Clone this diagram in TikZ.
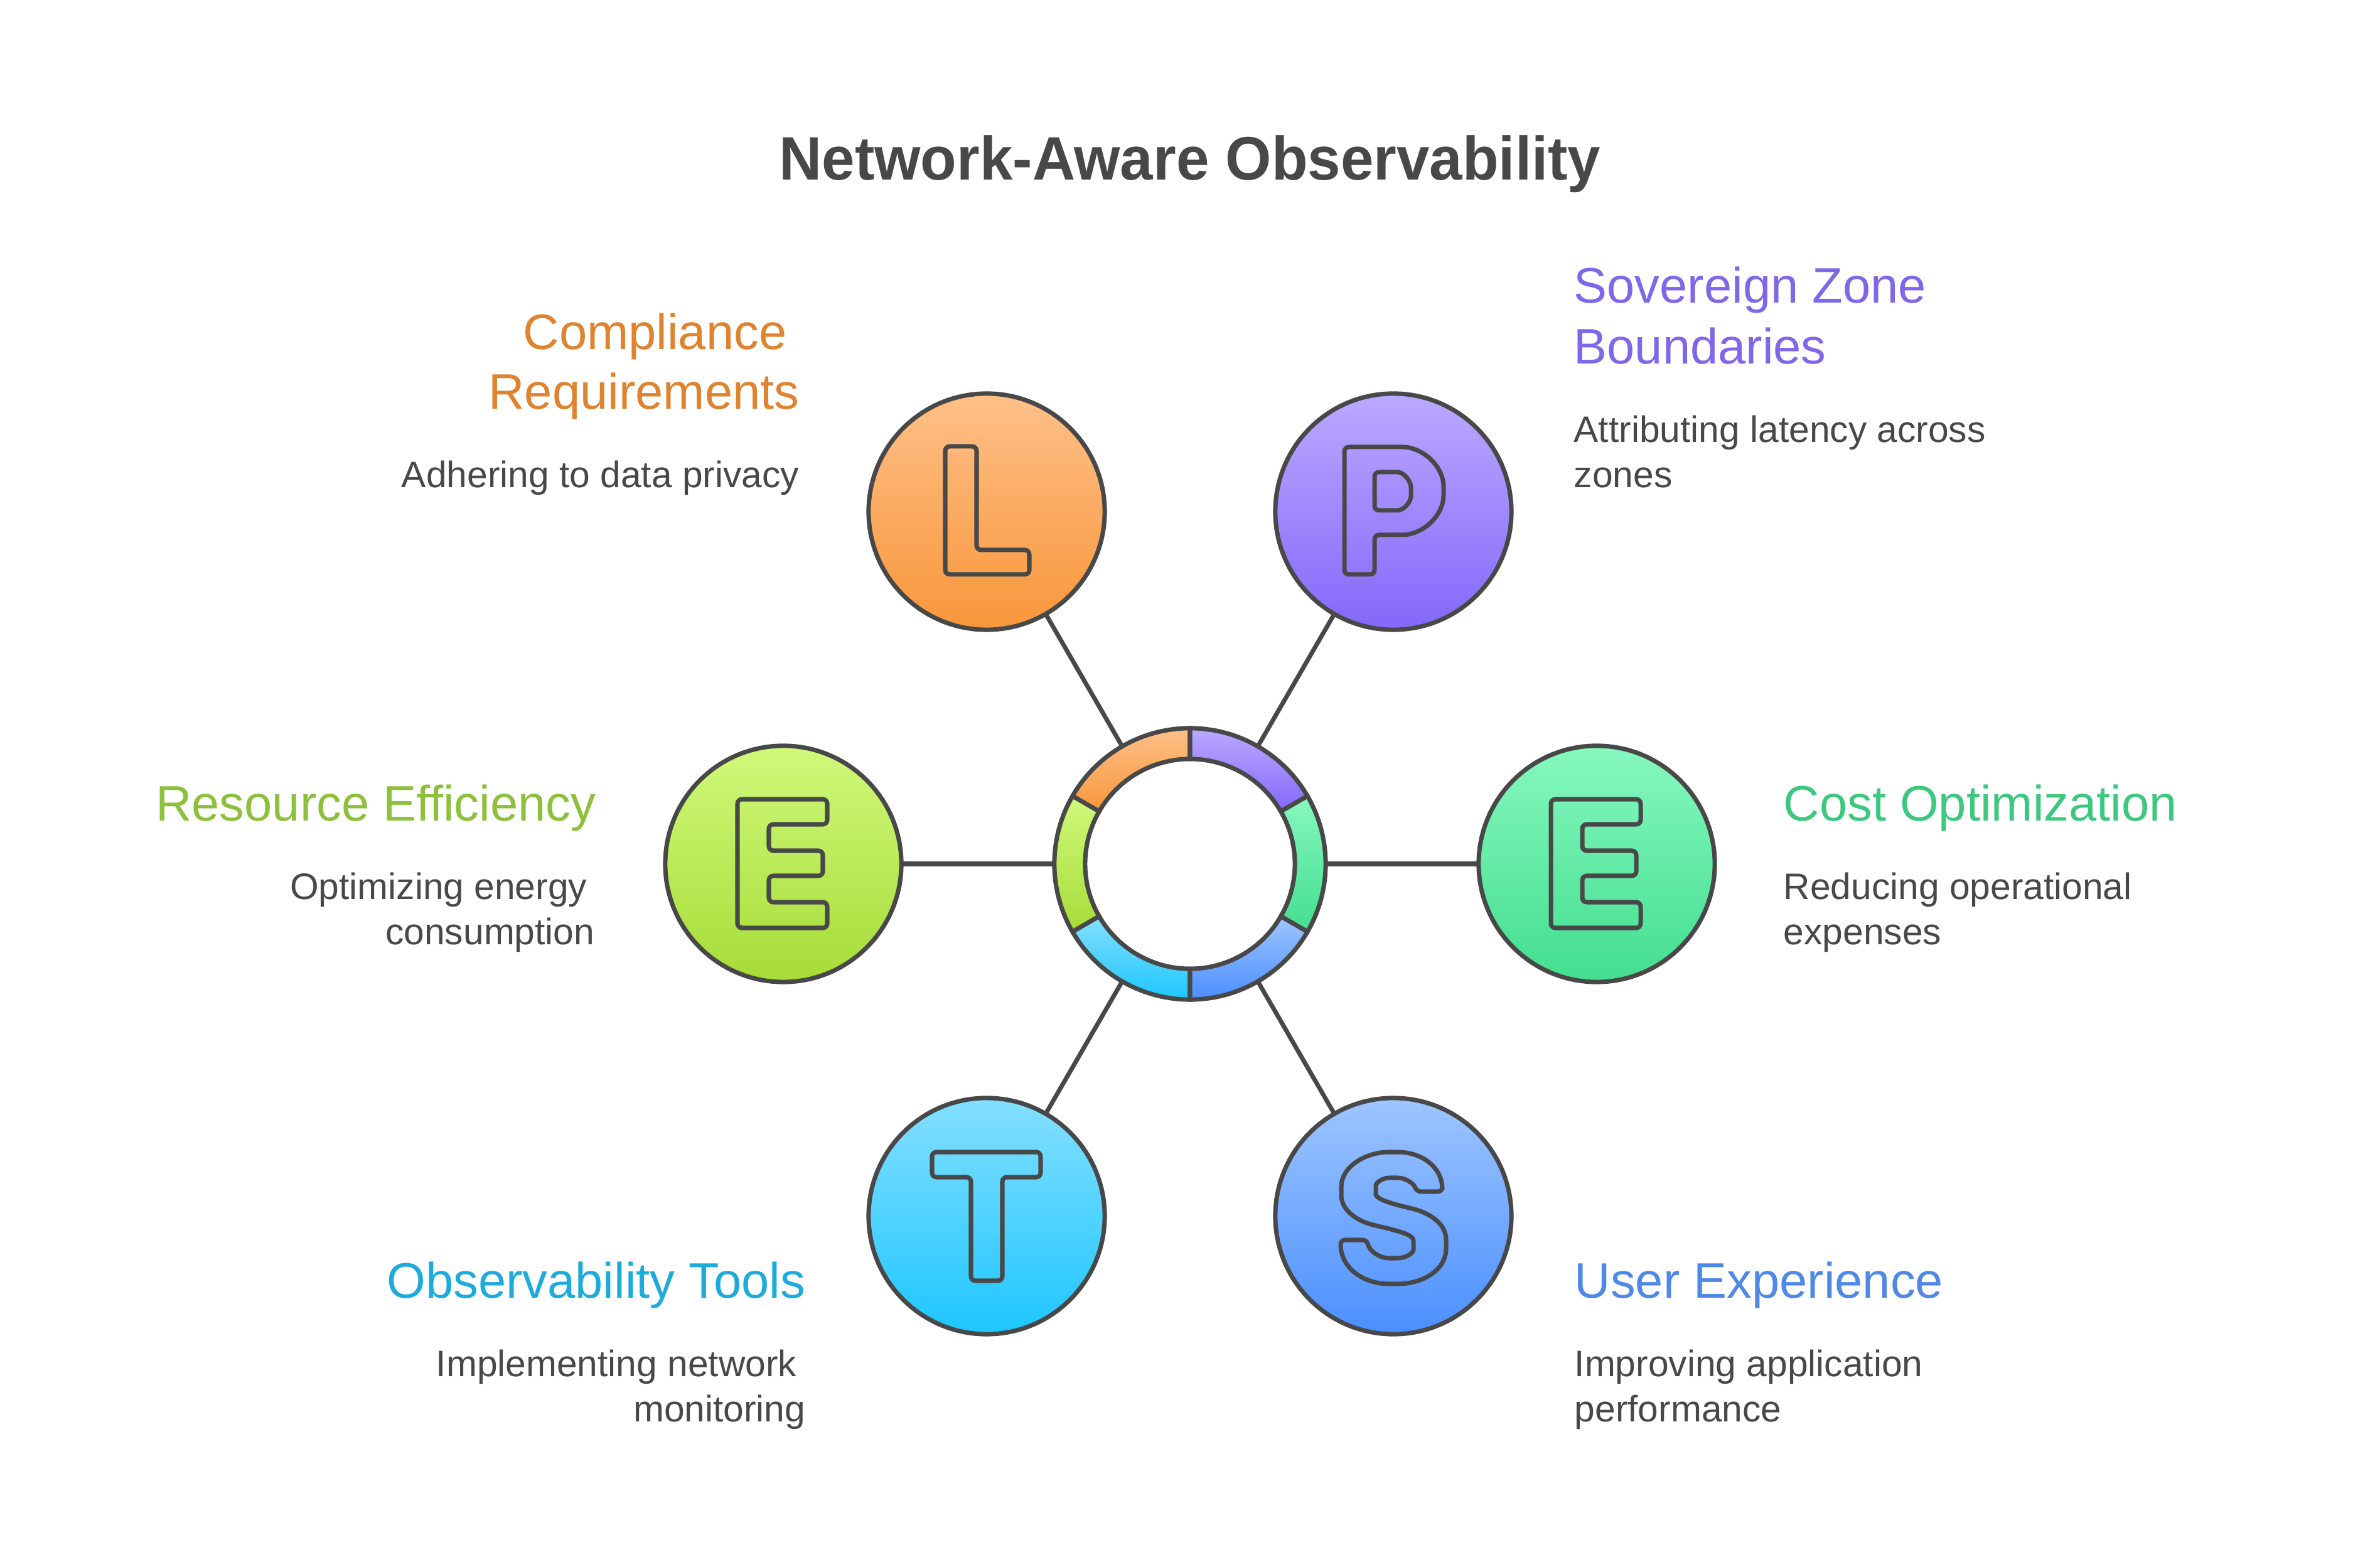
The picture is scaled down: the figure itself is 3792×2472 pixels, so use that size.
\documentclass[tikz,border=0pt]{standalone}
\usepackage{fontspec}
\setmainfont{Liberation Sans}
\newfontfamily\titlefont[FakeStretch=0.965]{Liberation Sans}
\usetikzlibrary{calc}
\definecolor{strokegray}{HTML}{484848}
\definecolor{oraT}{HTML}{FEC088}\definecolor{oraB}{HTML}{F8963B}
\definecolor{purT}{HTML}{BAA9FF}\definecolor{purB}{HTML}{8468FA}
\definecolor{limT}{HTML}{D0F97A}\definecolor{limB}{HTML}{A6DC38}
\definecolor{grnT}{HTML}{86F8BF}\definecolor{grnB}{HTML}{43DE8F}
\definecolor{cyaT}{HTML}{84DFFF}\definecolor{cyaB}{HTML}{1DC6FF}
\definecolor{bluT}{HTML}{9EC5FF}\definecolor{bluB}{HTML}{4A8FFF}
\definecolor{oraH}{HTML}{E0832F}
\definecolor{purH}{HTML}{7F67E9}
\definecolor{limH}{HTML}{8DC03B}
\definecolor{grnH}{HTML}{3DC87F}
\definecolor{cyaH}{HTML}{1DAADC}
\definecolor{bluH}{HTML}{4F89E8}
\tikzset{
  bubble/.style={circle, draw=strokegray, line width=2pt, minimum size=3.76cm, inner sep=0pt, outer sep=0pt},
  glyph/.style={draw=strokegray, line width=2pt, rounded corners=2pt, line join=round},
  conn/.style={draw=strokegray, line width=2pt},
  seg/.style={draw=strokegray, line width=2pt},
  head/.style={inner sep=0pt, font=\fontsize{22.6}{27}\selectfont},
  desc/.style={inner sep=0pt, text=strokegray, font=\fontsize{16.7}{20.5}\selectfont},
}
\begin{document}
\begin{tikzpicture}[x=0.01cm, y=0.01cm]
\fill[white] (0,0) rectangle (3792,2472);
\useasboundingbox (0,0) rectangle (3792,2472);

% title
\node[inner sep=0pt, anchor=base, text=strokegray, font=\titlefont\bfseries\fontsize{27.8}{33}\selectfont] (title) at (1896,2185) {Network-Aware Observability};

% centre ring anchor node
\node[circle, minimum size=4.32cm, inner sep=0pt, outer sep=0pt] (ring) at (1896,1096) {};

% circle nodes
\node[bubble, top color=oraT, bottom color=oraB] (L) at (1572,1657) {};
\node[bubble, top color=purT, bottom color=purB] (P) at (2220,1657) {};
\node[bubble, top color=limT, bottom color=limB] (EL) at (1248,1096) {};
\node[bubble, top color=grnT, bottom color=grnB] (ER) at (2544,1096) {};
\node[bubble, top color=cyaT, bottom color=cyaB] (T) at (1572,535) {};
\node[bubble, top color=bluT, bottom color=bluB] (S) at (2220,535) {};

% connectors
\draw[conn] (ring.120) -- (L.300);
\draw[conn] (ring.60) -- (P.240);
\draw[conn] (ring.180) -- (EL.0);
\draw[conn] (ring.0) -- (ER.180);
\draw[conn] (ring.240) -- (T.60);
\draw[conn] (ring.300) -- (S.120);

% ring segments
\foreach \a/\tc/\bc in {90/oraT/oraB, 30/purT/purB, 150/limT/limB, -30/grnT/grnB, 210/cyaT/cyaB, 270/bluT/bluB}{
  \path[seg, top color=\tc, bottom color=\bc, shift={(ring.center)}]
    (\a:2.16cm) arc[start angle=\a, end angle={\a+60}, radius=2.16cm]
    -- ({\a+60}:1.67cm) arc[start angle={\a+60}, end angle=\a, radius=1.67cm] -- cycle;
}

% letters
\begin{scope}[shift={(L.center)}, yscale=-1]
  \draw[glyph] (-66,-104) -- (-16,-104) -- (-16,61) -- (68,61) -- (68,100) -- (-66,100) -- cycle;
\end{scope}
\begin{scope}[shift={(P.center)}, yscale=-1]
  \draw[glyph] (-78,100) -- (-78,-103) -- (7,-103) .. controls (47,-103) and (80,-72) .. (80,-33)
     .. controls (80,6) and (47,37) .. (7,37) -- (-30,37) -- (-30,100) -- cycle;
  \draw[glyph] (-30,-63) -- (0,-63) .. controls (16,-63) and (28,-49) .. (28,-32)
     .. controls (28,-15) and (16,-2) .. (0,-2) -- (-30,-2) -- cycle;
\end{scope}
\foreach \n in {EL,ER}{
\begin{scope}[shift={(\n.center)}, yscale=-1]
  \draw[glyph] (-73,-103) -- (70,-103) -- (70,-63) -- (-23,-63) -- (-23,-21) -- (63,-21) -- (63,19)
    -- (-23,19) -- (-23,61) -- (70,61) -- (70,102) -- (-73,102) -- cycle;
\end{scope}
}
\begin{scope}[shift={(T.center)}, yscale=-1]
  \draw[glyph] (-87,-102) -- (86,-102) -- (86,-62) -- (25,-62) -- (25,103) -- (-25,103) -- (-25,-62) -- (-87,-62) -- cycle;
\end{scope}
\begin{scope}[shift={(S.center)}, yscale=-1]
  \draw[glyph] (78,-39) -- (37,-39)
    .. controls (32,-53) and (18,-61) .. (0,-61)
    .. controls (-17,-61) and (-28,-53) .. (-28,-42)
    .. controls (-28,-29) and (-12,-22) .. (22,-14)
    .. controls (62,-4) and (84,14) .. (84,45)
    .. controls (84,85) and (48,108) .. (0,108)
    .. controls (-46,108) and (-84,84) .. (-84,38)
    -- (-42,38)
    .. controls (-38,56) and (-22,67) .. (0,67)
    .. controls (20,67) and (32,59) .. (32,46)
    .. controls (32,31) and (14,25) .. (-24,16)
    .. controls (-62,7) and (-83,-12) .. (-83,-40)
    .. controls (-83,-78) and (-45,-102) .. (0,-102)
    .. controls (45,-102) and (77,-78) .. (78,-39) -- cycle;
\end{scope}

% texts
\node[head, text=oraH, anchor=base east] (h1a) at (1254,1915) {Compliance};
\node[head, text=oraH, anchor=base east] (h1b) at (1274,1820) {Requirements};
\node[desc, anchor=base east] (d1a) at (1274,1695) {Adhering to data privacy};

\node[head, text=purH, anchor=base west] (h2a) at (2507,1989) {Sovereign Zone};
\node[head, text=purH, anchor=base west] (h2b) at (2507,1892) {Boundaries};
\node[desc, anchor=base west] (d2a) at (2507,1767) {Attributing latency across};
\node[desc, anchor=base west] (d2b) at (2507,1695) {zones};

\node[head, text=limH, anchor=base east] (h3a) at (950,1164) {Resource Efficiency};
\node[desc, anchor=base east] (d3a) at (936,1039) {Optimizing energy};
\node[desc, anchor=base east] (d3b) at (948,967) {consumption};

\node[head, text=grnH, anchor=base west] (h4a) at (2841,1164) {Cost Optimization};
\node[desc, anchor=base west] (d4a) at (2841,1039) {Reducing operational};
\node[desc, anchor=base west] (d4b) at (2841,967) {expenses};

\node[head, text=cyaH, anchor=base east] (h5a) at (1284,404) {Observability Tools};
\node[desc, anchor=base east] (d5a) at (1270,279) {Implementing network};
\node[desc, anchor=base east] (d5b) at (1284,207) {monitoring};

\node[head, text=bluH, anchor=base west] (h6a) at (2508,404) {User Experience};
\node[desc, anchor=base west] (d6a) at (2508,279) {Improving application};
\node[desc, anchor=base west] (d6b) at (2508,207) {performance};
\end{tikzpicture}
\end{document}
